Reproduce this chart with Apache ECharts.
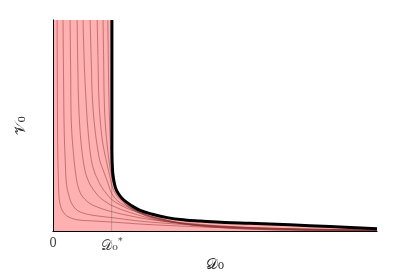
<!DOCTYPE html>
<html>
<head>
<meta charset="utf-8">
<script src="https://cdn.jsdelivr.net/npm/echarts@6/dist/echarts.min.js"></script>
<style>
html,body{margin:0;padding:0;background:#fff;}
#chart{width:417px;height:278px;}
</style>
</head>
<body>
<div id="chart"></div>
<script>
// critical value D0* and axis extents
var dStar = 1;
var dMax = 5.5;
var vMax = 10;

// boundary curve (thick black)
var boundary = [[1.00,10],[1.00,3.87],[1.01,2.92],[1.03,2.45],[1.06,2.08],[1.10,1.84],[1.17,1.58],[1.26,1.37],[1.36,1.18],[1.49,0.99],[1.65,0.85],[1.94,0.66],[2.24,0.55],[2.50,0.50],[2.92,0.43],[3.34,0.39],[4.02,0.32],[4.70,0.24],[5.50,0.14]];

// thin trajectories
var curve1 = [[0.07,10],[0.075,6],[0.08,3.87],[0.09,2.6],[0.10,1.75],[0.12,1.3],[0.15,1.04],[0.2,0.83],[0.25,0.71],[0.35,0.6],[0.46,0.54],[0.7,0.5],[1.0,0.45],[1.65,0.33],[2.84,0.19],[4,0.11],[5.5,0.05]];
var curve2 = [[0.17,10],[0.18,7],[0.19,4.81],[0.21,3.2],[0.23,2.22],[0.27,1.7],[0.31,1.37],[0.36,1.15],[0.42,0.99],[0.52,0.87],[0.66,0.78],[1.0,0.66],[1.65,0.45],[2.84,0.24],[4,0.14],[5.5,0.07]];
var curve3 = [[0.29,10],[0.30,7.5],[0.31,5.28],[0.35,3.6],[0.40,2.45],[0.44,2.0],[0.49,1.70],[0.56,1.48],[0.63,1.32],[0.80,1.11],[1.0,0.94],[1.3,0.75],[1.65,0.57],[2.2,0.4],[2.84,0.26],[4,0.14],[5.5,0.07]];
var curve4 = [[0.41,10],[0.42,8],[0.44,5.75],[0.48,4.1],[0.54,2.92],[0.6,2.4],[0.66,2.08],[0.73,1.82],[0.80,1.60],[0.9,1.4],[1.0,1.23],[1.31,0.90],[1.82,0.52],[2.4,0.32],[3.01,0.21],[4,0.12],[5.5,0.07]];
var curve5 = [[0.51,10],[0.53,8],[0.56,6.23],[0.6,4.6],[0.65,3.40],[0.7,2.85],[0.76,2.45],[0.82,2.13],[0.88,1.89],[1.0,1.51],[1.15,1.25],[1.31,1.04],[1.82,0.57],[2.4,0.33],[3.01,0.21],[4,0.11],[5.5,0.05]];
var curve6 = [[0.63,10],[0.65,8],[0.67,6.23],[0.71,4.9],[0.76,3.87],[0.8,3.3],[0.85,2.92],[0.93,2.31],[1.0,1.79],[1.1,1.45],[1.22,1.23],[1.45,0.9],[1.73,0.61],[2.3,0.35],[3.01,0.19],[4,0.1],[5.5,0.05]];
var curve7 = [[0.75,10],[0.765,8],[0.78,6.23],[0.81,5],[0.85,4.10],[0.92,3.16],[0.97,2.55],[1.0,2.17],[1.06,1.8],[1.14,1.51],[1.3,1.15],[1.48,0.90],[1.9,0.55],[2.50,0.28],[3.5,0.1],[5.5,0.02]];
var curve8 = [[0.85,10],[0.86,8],[0.87,6.23],[0.89,5],[0.92,4.10],[0.96,3.16],[1.0,2.55],[1.04,2.2],[1.09,1.89],[1.2,1.45],[1.31,1.18],[1.5,0.88],[1.82,0.61],[2.3,0.33],[2.84,0.19],[4,0.07],[5.5,0.02]];
var curve9 = [[0.93,10],[0.94,8],[0.95,6.23],[0.965,4.8],[0.98,3.87],[0.99,2.92],[1.02,2.36],[1.06,2.1],[1.10,1.93],[1.17,1.55],[1.24,1.27],[1.4,1.0],[1.56,0.80],[1.9,0.55],[2.33,0.38],[3.51,0.17],[5.5,0.02]];
var curves = [curve1,curve2,curve3,curve4,curve5,curve6,curve7,curve8,curve9];

// vertical marker under the boundary at D0*
var starLine = [[1,0],[1,2.8]];
var leftFill = [[0,10],[1,10]];

var pink = '#ffb0b0';
var thin = 'rgba(140,50,50,0.5)';
var serif = 'DejaVu Serif';

var chart = echarts.init(document.getElementById('chart'));

var series = [];
series.push({
	type:'line', data:leftFill, symbol:'none', silent:true, z:1,
	lineStyle:{width:0}, areaStyle:{color:pink, opacity:1}
});
series.push({
	type:'line', data:boundary, symbol:'none', smooth:0.4, silent:true, z:1,
	lineStyle:{width:0}, areaStyle:{color:pink, opacity:1}
});
curves.forEach(function(c){
	series.push({
		type:'line', data:c, symbol:'none', smooth:0.4, silent:true, z:2,
		lineStyle:{color:thin, width:1}
	});
});
series.push({
	type:'line', data:starLine, symbol:'none', silent:true, z:2,
	lineStyle:{color:thin, width:1}
});
series.push({
	type:'line', data:boundary, symbol:'none', smooth:0.4, silent:true, z:3,
	lineStyle:{color:'#000', width:3}
});

var option = {
	animation:false,
	grid:{left:53, right:40, top:20, bottom:46},
	xAxis:[{
		type:'value', min:0, max:dMax, interval:1, z:10,
		splitLine:{show:false}, axisTick:{show:false},
		axisLine:{lineStyle:{color:'#999', width:1}},
		name:'𝒟₀', nameLocation:'middle', nameGap:24,
		nameTextStyle:{fontFamily:serif, fontSize:15, color:'#222'},
		axisLabel:{
			margin:6, fontFamily:serif, fontSize:12, color:'#444',
			showMaxLabel:false,
			formatter:function(v){
				if(v===0) return '0';
				if(v===dStar) return '{d|𝒟₀}{s|*}';
				return '';
			},
			rich:{
				d:{fontSize:14, fontFamily:serif, color:'#444'},
				s:{fontSize:9, fontFamily:serif, color:'#444', padding:[0,0,8,0]}
			}
		}
	},{
		type:'value', min:0, max:dMax, position:'top', z:10,
		axisLabel:{show:false}, axisTick:{show:false}, splitLine:{show:false},
		axisLine:{lineStyle:{color:'#000', width:1}}
	}],
	yAxis:[{
		type:'value', min:0, max:vMax, z:10,
		splitLine:{show:false}, axisTick:{show:false}, axisLabel:{show:false},
		axisLine:{show:true, lineStyle:{color:'#999', width:1}},
		name:'𝒱₀', nameLocation:'middle', nameGap:24,
		nameTextStyle:{fontFamily:serif, fontSize:15, color:'#222'}
	},{
		type:'value', min:0, max:vMax, position:'right', z:10,
		splitLine:{show:false}, axisTick:{show:false}, axisLabel:{show:false},
		axisLine:{show:true, lineStyle:{color:'#000', width:1}}
	}],
	series:series
};
chart.setOption(option);
</script>
</body>
</html>
